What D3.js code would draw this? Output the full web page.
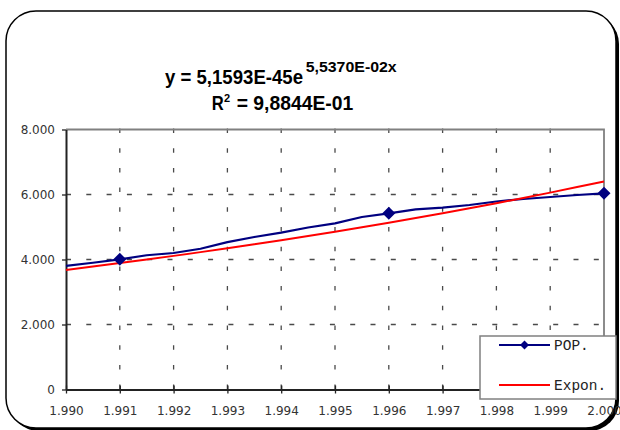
<!DOCTYPE html>
<html>
<head>
<meta charset="utf-8">
<script src="https://cdn.jsdelivr.net/npm/d3@7"></script>
<style>
  html, body { margin: 0; padding: 0; background: #fff; overflow: hidden; }
  svg { display: block; }
</style>
</head>
<body>
<svg id="chart" width="620" height="430"></svg>
<script>
// Population series, sampled every half year
const periods = [1990, 1990.5, 1991, 1991.5, 1992, 1992.5, 1993, 1993.5, 1994, 1994.5,
                 1995, 1995.5, 1996, 1996.5, 1997, 1997.5, 1998, 1998.5, 1999, 1999.5, 2000];
const pop = [3806, 3900, 4006, 4130, 4200, 4330, 4535, 4692, 4825, 4985,
             5110, 5308, 5420, 5545, 5594, 5677, 5785, 5862, 5923, 5985, 6037];
// Periods that carry a marker on the population line
const markerYears = [1991, 1996, 2000];

// Exponential trend y = a * e^(b x), coefficients as printed in the title
const trendA = 5.1593e-45;
const trendB = 5.5370e-2;
const trendLabel = ["y = 5,1593E-45e", "5,5370E-02x"];
const r2Label = "= 9,8844E-01";

const yTicks = [0, 2000, 4000, 6000, 8000];
const yTickLabels = ["0", "2.000", "4.000", "6.000", "8.000"];
const xTicks = [1990, 1991, 1992, 1993, 1994, 1995, 1996, 1997, 1998, 1999, 2000];
const xTickLabels = ["1.990", "1.991", "1.992", "1.993", "1.994", "1.995",
                     "1.996", "1.997", "1.998", "1.999", "2.000"];
const seriesNames = ["POP.", "Expon."];

const BLUE = "#000080", RED = "#ff0000";
const svg = d3.select("#chart");

// Rounded chart frame with a drop shadow
svg.append("rect").attr("x", 9).attr("y", 14).attr("width", 610).attr("height", 417)
  .attr("rx", 30).attr("fill", "#000");
svg.append("rect").attr("x", 6).attr("y", 11).attr("width", 610).attr("height", 417)
  .attr("rx", 30).attr("fill", "#fff").attr("stroke", "#000").attr("stroke-width", 1.5);

const x = d3.scaleLinear().domain([1990, 2000]).range([66, 604]);
const y = d3.scaleLinear().domain([0, 8000]).range([389.5, 129.5]);
const [x0, x1] = x.range();
const [yBottom, yTop] = y.range();

// Dashed grid
const grid = svg.append("g").attr("stroke", "#4a4a4a").attr("stroke-width", 1.3);
grid.selectAll("line.h").data(yTicks.filter(v => v > 0 && v < 8000)).join("line")
  .attr("x1", x0).attr("x2", x1).attr("y1", d => y(d)).attr("y2", d => y(d))
  .attr("stroke-dasharray", "5,15.3");
grid.selectAll("line.v").data(xTicks.slice(1, -1)).join("line")
  .attr("x1", d => x(d)).attr("x2", d => x(d)).attr("y1", yTop - 1).attr("y2", yBottom)
  .attr("stroke-dasharray", "4.5,15.2");

// Plot area border (top and right)
svg.append("path")
  .attr("d", `M${x0},${yTop}H${x1}V${yBottom}`)
  .attr("fill", "none").attr("stroke", "#808080").attr("stroke-width", 1.8);

// Axes
const tickFont = "'DejaVu Sans', Verdana, sans-serif";
const yAxis = svg.append("g").attr("transform", `translate(${x0},0)`)
  .call(d3.axisLeft(y).tickValues(yTicks).tickFormat((d, i) => yTickLabels[i])
    .tickSize(4).tickSizeOuter(0).tickPadding(7));
const xAxis = svg.append("g").attr("transform", `translate(0,${yBottom})`)
  .call(d3.axisBottom(x).tickValues(xTicks).tickFormat((d, i) => xTickLabels[i])
    .tickSize(4).tickSizeOuter(0).tickPadding(13));
xAxis.selectAll(".tick line").attr("y1", -4);
[yAxis, xAxis].forEach(g => {
  g.select(".domain").attr("stroke", "#222").attr("stroke-width", 2);
  g.selectAll(".tick line").attr("stroke", "#222").attr("stroke-width", 1.3);
  g.selectAll(".tick text").attr("fill", "#333").style("font-family", tickFont)
    .style("font-size", "12px");
});

// Series lines
const popPts = periods.map((p, i) => [p, pop[i]]);
const trendPts = periods.map(p => [p, trendA * Math.exp(trendB * p)]);
const line = d3.line().x(d => x(d[0])).y(d => y(d[1]));

svg.append("path").datum(popPts).attr("d", line)
  .attr("fill", "none").attr("stroke", BLUE).attr("stroke-width", 2.2)
  .attr("stroke-linejoin", "round");
svg.append("path").datum(trendPts).attr("d", line)
  .attr("fill", "none").attr("stroke", RED).attr("stroke-width", 2)
  .attr("stroke-linejoin", "round");

const diamond = (s) => `M0,${-s}L${s},0L0,${s}L${-s},0Z`;
svg.selectAll("path.marker").data(markerYears).join("path")
  .attr("class", "marker")
  .attr("transform", d => `translate(${x(d)},${y(pop[periods.indexOf(d)])})`)
  .attr("d", diamond(6.5)).attr("fill", BLUE);

// Trend equation
const titleFont = "'Liberation Sans', Arial, sans-serif";
const title = svg.append("g").attr("fill", "#000").style("font-family", titleFont)
  .style("font-weight", "bold");
title.append("text").attr("x", 165).attr("y", 84.3).style("font-size", "21px")
  .attr("textLength", 138).attr("lengthAdjust", "spacingAndGlyphs").text(trendLabel[0]);
title.append("text").attr("x", 305.7).attr("y", 72.3).style("font-size", "14.5px")
  .attr("textLength", 91).attr("lengthAdjust", "spacingAndGlyphs").text(trendLabel[1]);
title.append("text").attr("x", 211.7).attr("y", 110).style("font-size", "21px")
  .attr("textLength", 12).attr("lengthAdjust", "spacingAndGlyphs").text("R");
title.append("text").attr("x", 224).attr("y", 101.5).style("font-size", "11px").text("2");
title.append("text").attr("x", 236.7).attr("y", 110).style("font-size", "21px")
  .attr("textLength", 116.6).attr("lengthAdjust", "spacingAndGlyphs").text(r2Label);

// Legend
const legend = svg.append("g");
legend.append("rect").attr("x", 480).attr("y", 336).attr("width", 136).attr("height", 63)
  .attr("fill", "#fff").attr("stroke", "#808080").attr("stroke-width", 1.5);
const legendRows = [
  { name: seriesNames[0], color: BLUE, marker: true, cy: 345 },
  { name: seriesNames[1], color: RED, marker: false, cy: 385 }
];
legendRows.forEach(r => {
  legend.append("line").attr("x1", 499).attr("x2", 550).attr("y1", r.cy).attr("y2", r.cy)
    .attr("stroke", r.color).attr("stroke-width", 2);
  if (r.marker) {
    legend.append("path").attr("transform", `translate(524.5,${r.cy})`)
      .attr("d", diamond(4.5)).attr("fill", r.color);
  }
  legend.append("text").attr("x", 554).attr("y", r.cy + 4.5)
    .style("font-family", "'Liberation Mono', 'Courier New', monospace")
    .style("font-size", "14.5px").attr("fill", "#222").text(r.name);
});
</script>
</body>
</html>
